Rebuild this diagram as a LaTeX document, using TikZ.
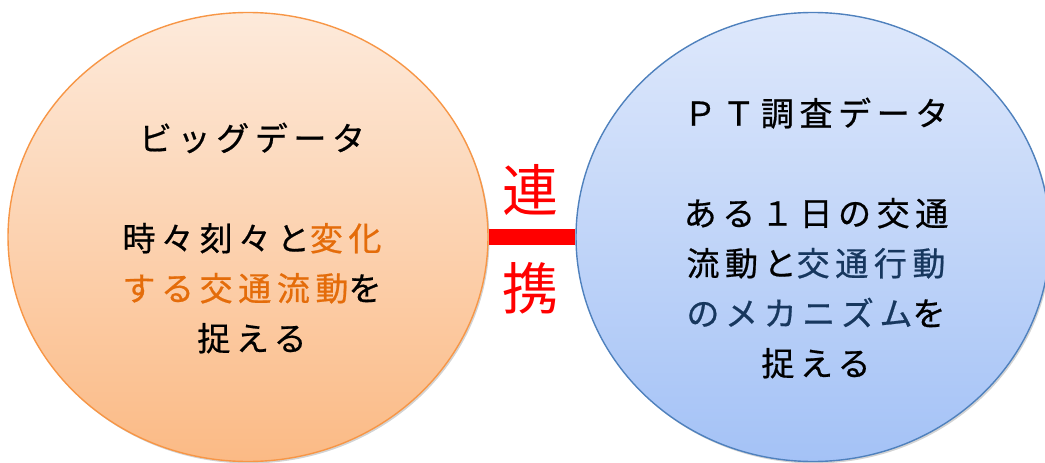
\documentclass[tikz,border=0pt]{standalone}
\usepackage{fontspec}
\usetikzlibrary{shapes.geometric,shadows}
\newfontfamily\jp[LetterSpace=17,FakeBold=0.6]{Noto Sans CJK JP}
\newfontfamily\jpr{Noto Sans CJK JP}
\definecolor{orborder}{HTML}{F79646}
\definecolor{ortop}{HTML}{FDEADB}
\definecolor{orbot}{HTML}{FBBA85}
\definecolor{blborder}{HTML}{4F81BD}
\definecolor{bltop}{HTML}{DEE8FB}
\definecolor{blbot}{HTML}{A4C2F6}
\definecolor{ortext}{HTML}{E46C0A}
\definecolor{bltext}{HTML}{17375E}
\definecolor{linkred}{HTML}{FF0000}
\tikzset{
  bubble/.style={ellipse, inner sep=0pt, line width=1.4pt,
    drop shadow={opacity=0.35, shadow xshift=1.5pt, shadow yshift=-2pt}},
  bodytext/.style={align=center, inner sep=0pt,
    font=\jp\fontsize{33}{50}\selectfont},
  linktext/.style={inner sep=0pt, text=linkred, font=\jpr\fontsize{56}{60}\selectfont}
}
\begin{document}
\begin{tikzpicture}[x=1pt,y=-1pt]
\useasboundingbox (0,0) rectangle (1045,463);
\node[bubble, draw=orborder, top color=ortop, bottom color=orbot,
  minimum width=480pt, minimum height=449pt] (L) at (248,237) {};
\node[bubble, draw=blborder, top color=bltop, bottom color=blbot,
  minimum width=474pt, minimum height=449pt] (R) at (813,237) {};
\draw[linkred, line width=16pt] (L.east) -- (R.west);
\node[linktext] (k1) at (530,190) {連};
\node[linktext] (k2) at (530,288) {携};
\node[bodytext] (lt) at (252,238) {ビッグデータ\\ \\
時々刻々と\textcolor{ortext}{変化}\\
\textcolor{ortext}{する交通流動}を\\
捉える};
\node[bodytext] (rt) at (816,238) {ＰＴ調査データ\\ \\
ある１日の交通\\
流動と\textcolor{bltext}{交通行動}\\
\textcolor{bltext}{のメカニズム}を\\
捉える};
\end{tikzpicture}
\end{document}
